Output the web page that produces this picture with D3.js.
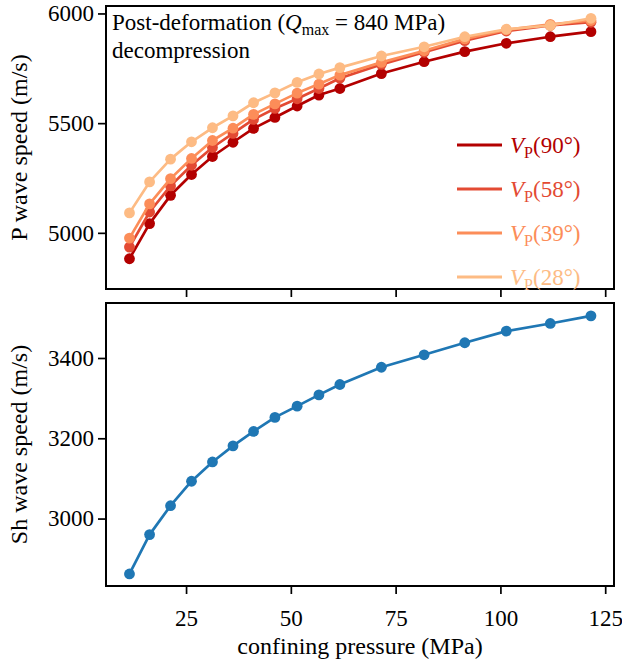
<!DOCTYPE html>
<html>
<head>
<meta charset="utf-8">
<script src="https://cdn.jsdelivr.net/npm/d3@7"></script>
<style>
html,body{margin:0;padding:0;background:#fff;}
svg{display:block;}
</style>
</head>
<body>
<svg id="chart" width="622" height="664"></svg>
<script>
// ---- data ----
const pressure = [11.5, 16.3, 21.3, 26.3, 31.3, 36.2, 41.1, 46.2, 51.5, 56.7, 61.7, 71.6, 81.8, 91.5, 101.4, 111.9, 121.6];
const vp90 = [4882, 5042, 5171, 5266, 5348, 5413, 5476, 5526, 5578, 5628, 5658, 5726, 5780, 5826, 5864, 5894, 5917];
const vp58 = [4935, 5095, 5214, 5308, 5389, 5453, 5517, 5567, 5611, 5658, 5705, 5768, 5823, 5876, 5920, 5945, 5960];
const vp39 = [4976, 5132, 5247, 5339, 5421, 5477, 5540, 5588, 5637, 5678, 5719, 5777, 5830, 5884, 5925, 5950, 5968];
const vp28 = [5091, 5232, 5336, 5415, 5479, 5533, 5593, 5638, 5686, 5724, 5753, 5806, 5848, 5894, 5928, 5945, 5978];
const vsh  = [2862, 2960, 3032, 3093, 3141, 3181, 3217, 3252, 3280, 3308, 3334, 3377, 3408, 3438, 3467, 3486, 3505];
const angleLabels = ["90°", "58°", "39°", "28°"];
const xTicks = [25, 50, 75, 100, 125];
const vpTicks = [5000, 5500, 6000];
const shTicks = [3000, 3200, 3400];

const seriesVP = [vp90, vp58, vp39, vp28];
const colorsVP = ["#b30000", "#e34a33", "#fc8d59", "#fdbb84"];
const blue = "#1f77b4";
const FONT = 23;
const LABELFONT = 24;
const FAMILY = '"Liberation Serif"';

const svg = d3.select("#chart");
const L = 106, R = 614;
const top1 = 6, bot1 = 289, top2 = 303, bot2 = 586;

const x = d3.scaleLinear().domain([5.9, 127.1]).range([L, R]);
const y1 = d3.scaleLinear().domain([4744, 6034]).range([bot1, top1]);
const y2 = d3.scaleLinear().domain([2832, 3537]).range([bot2, top2]);

function styleAxis(g, labels) {
  g.attr("font-family", FAMILY).attr("font-size", FONT);
  g.select(".domain").remove();
  g.selectAll(".tick line").attr("stroke", "#000").attr("stroke-width", 1.7);
  g.selectAll(".tick text").attr("fill", "#000").attr("font-family", FAMILY).attr("font-size", FONT);
  if (!labels) g.selectAll(".tick text").remove();
}

// axes top panel
svg.append("g").attr("transform", `translate(0,${bot1})`)
  .call(d3.axisBottom(x).tickValues(xTicks).tickSize(8).tickFormat(d3.format("d")))
  .call(g => styleAxis(g, false));
svg.append("g").attr("transform", `translate(${L},0)`)
  .call(d3.axisLeft(y1).tickValues(vpTicks).tickSize(8).tickPadding(4).tickFormat(d3.format("d")))
  .call(g => styleAxis(g, true));
// axes bottom panel
svg.append("g").attr("transform", `translate(0,${bot2})`)
  .call(d3.axisBottom(x).tickValues(xTicks).tickSize(8).tickPadding(16).tickFormat(d3.format("d")))
  .call(g => styleAxis(g, true));
svg.append("g").attr("transform", `translate(${L},0)`)
  .call(d3.axisLeft(y2).tickValues(shTicks).tickSize(8).tickPadding(4).tickFormat(d3.format("d")))
  .call(g => styleAxis(g, true));

// clip paths
const defs = svg.append("defs");
defs.append("clipPath").attr("id", "c1").append("rect").attr("x", L).attr("y", top1).attr("width", R - L).attr("height", bot1 - top1);
defs.append("clipPath").attr("id", "c2").append("rect").attr("x", L).attr("y", top2).attr("width", R - L).attr("height", bot2 - top2);

// top panel series
const g1 = svg.append("g").attr("clip-path", "url(#c1)");
seriesVP.forEach((vals, i) => {
  const pts = pressure.map((p, j) => [p, vals[j]]);
  const line = d3.line().x(d => x(d[0])).y(d => y1(d[1]));
  const gs = g1.append("g");
  gs.append("path").attr("d", line(pts)).attr("fill", "none")
    .attr("stroke", colorsVP[i]).attr("stroke-width", 2.7).attr("stroke-linejoin", "round");
  gs.selectAll("circle").data(pts).enter().append("circle")
    .attr("cx", d => x(d[0])).attr("cy", d => y1(d[1])).attr("r", 5.4).attr("fill", colorsVP[i]);
});

// bottom panel series
const g2 = svg.append("g").attr("clip-path", "url(#c2)");
const ptsSh = pressure.map((p, j) => [p, vsh[j]]);
g2.append("path").attr("d", d3.line().x(d => x(d[0])).y(d => y2(d[1]))(ptsSh))
  .attr("fill", "none").attr("stroke", blue).attr("stroke-width", 2.7).attr("stroke-linejoin", "round");
g2.selectAll("circle").data(ptsSh).enter().append("circle")
  .attr("cx", d => x(d[0])).attr("cy", d => y2(d[1])).attr("r", 5.4).attr("fill", blue);

// frames
[[top1, bot1], [top2, bot2]].forEach(([t, b]) => {
  svg.append("rect").attr("x", L).attr("y", t).attr("width", R - L).attr("height", b - t)
    .attr("fill", "none").attr("stroke", "#000").attr("stroke-width", 2);
});

function txt(sel, size) { return sel.attr("font-family", FAMILY).attr("font-size", size || FONT); }

// title annotation
const t1 = txt(svg.append("text").attr("x", 112).attr("y", 30).attr("fill", "#000"));
t1.append("tspan").text("Post-deformation (");
t1.append("tspan").attr("font-style", "italic").text("Q");
t1.append("tspan").attr("dy", 5).attr("font-size", 16).text("max");
t1.append("tspan").attr("dy", -5).text(" = 840 MPa)");
txt(svg.append("text").attr("x", 112).attr("y", 58).attr("fill", "#000")).text("decompression");

// legend
angleLabels.forEach((lab, i) => {
  const cy = 145 + i * 44;
  svg.append("line").attr("x1", 457).attr("x2", 502).attr("y1", cy).attr("y2", cy)
    .attr("stroke", colorsVP[i]).attr("stroke-width", 3);
  const t = txt(svg.append("text").attr("x", 510).attr("y", cy + 8).attr("fill", colorsVP[i]));
  t.append("tspan").attr("font-style", "italic").text("V");
  t.append("tspan").attr("dy", 5).attr("font-size", 16).text("P");
  t.append("tspan").attr("dy", -5).text("(" + lab + ")");
});

// axis labels
txt(svg.append("text").attr("transform", `translate(27,${(top1 + bot1) / 2}) rotate(-90)`)
  .attr("text-anchor", "middle"), LABELFONT).text("P wave speed (m/s)");
txt(svg.append("text").attr("transform", `translate(27,${(top2 + bot2) / 2}) rotate(-90)`)
  .attr("text-anchor", "middle"), LABELFONT).text("Sh wave speed (m/s)");
txt(svg.append("text").attr("x", (L + R) / 2).attr("y", 654).attr("text-anchor", "middle"), LABELFONT)
  .text("confining pressure (MPa)");
</script>
</body>
</html>
